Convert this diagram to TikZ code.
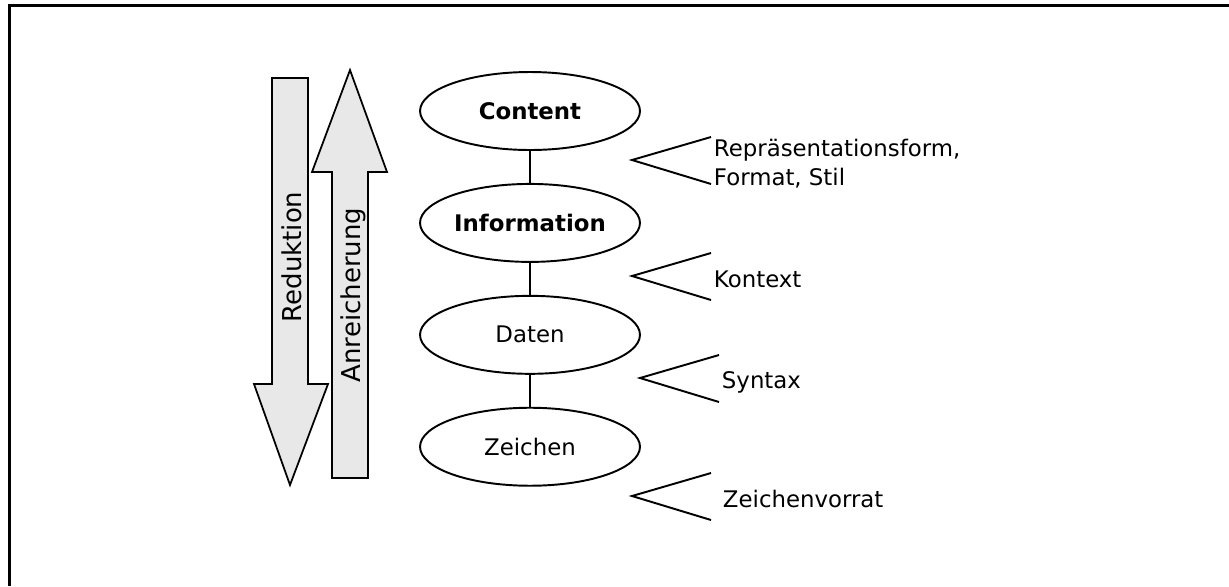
\documentclass[tikz,border=0pt]{standalone}
\usepackage{fontspec}
\setmainfont{DejaVu Sans}
\usetikzlibrary{shapes.geometric}
\usetikzlibrary{positioning}

\begin{document}
\begin{tikzpicture}[x=0.02cm,y=-0.02cm,line width=1.1pt,
  font=\fontsize{13}{16}\selectfont,
  level/.style={draw,ellipse,minimum width=4.4cm,minimum height=1.56cm,inner sep=0pt},
  band/.style={draw,fill=black!9,line width=1pt,line join=miter},
  bandtext/.style={rotate=90,font=\fontsize{14.8}{17}\selectfont},
  note/.style={anchor=base west,inner sep=0pt,align=left}]
\useasboundingbox (0,0) rectangle (1229,586);
\draw[line width=1.7pt] (9.5,586) -- (9.5,5.5) -- (1229,5.5);
% Reduktion / Anreicherung
\draw[band] (272,78) -- (308,78) -- (308,384) -- (328,384) -- (290,485) -- (254,384) -- (272,384) -- cycle;
\node[bandtext] (red) at (292,257) {Reduktion};
\draw[band] (332,478) -- (368,478) -- (368,172) -- (387,172) -- (350,70) -- (312,172) -- (332,172) -- cycle;
\node[bandtext] (anr) at (353,295) {Anreicherung};
% Ebenen
\node[level] (content) at (530,111) {\textbf{Content}};
\node[level,below=0.64cm of content] (info) {\textbf{Information}};
\node[level,below=0.64cm of info] (daten) {Daten};
\node[level,below=0.64cm of daten] (zeichen) {Zeichen};
\draw (content) -- (info);
\draw (info) -- (daten);
\draw (daten) -- (zeichen);
% Uebergaenge
\foreach \tx/\ty/\ex in {632/160/711,632/276/711,640/378/719,632/496/711}
\draw (\ex,\ty-23) -- (\tx,\ty) -- (\ex,\ty+24);
\node[note] (form) at (713,185) {Repräsentationsform,\\Format, Stil};
\node[note] (kontext) at (713,287) {Kontext};
\node[note] (syntax) at (721,388) {Syntax};
\node[note] (vorrat) at (722,507) {Zeichenvorrat};
\end{tikzpicture}
\end{document}
